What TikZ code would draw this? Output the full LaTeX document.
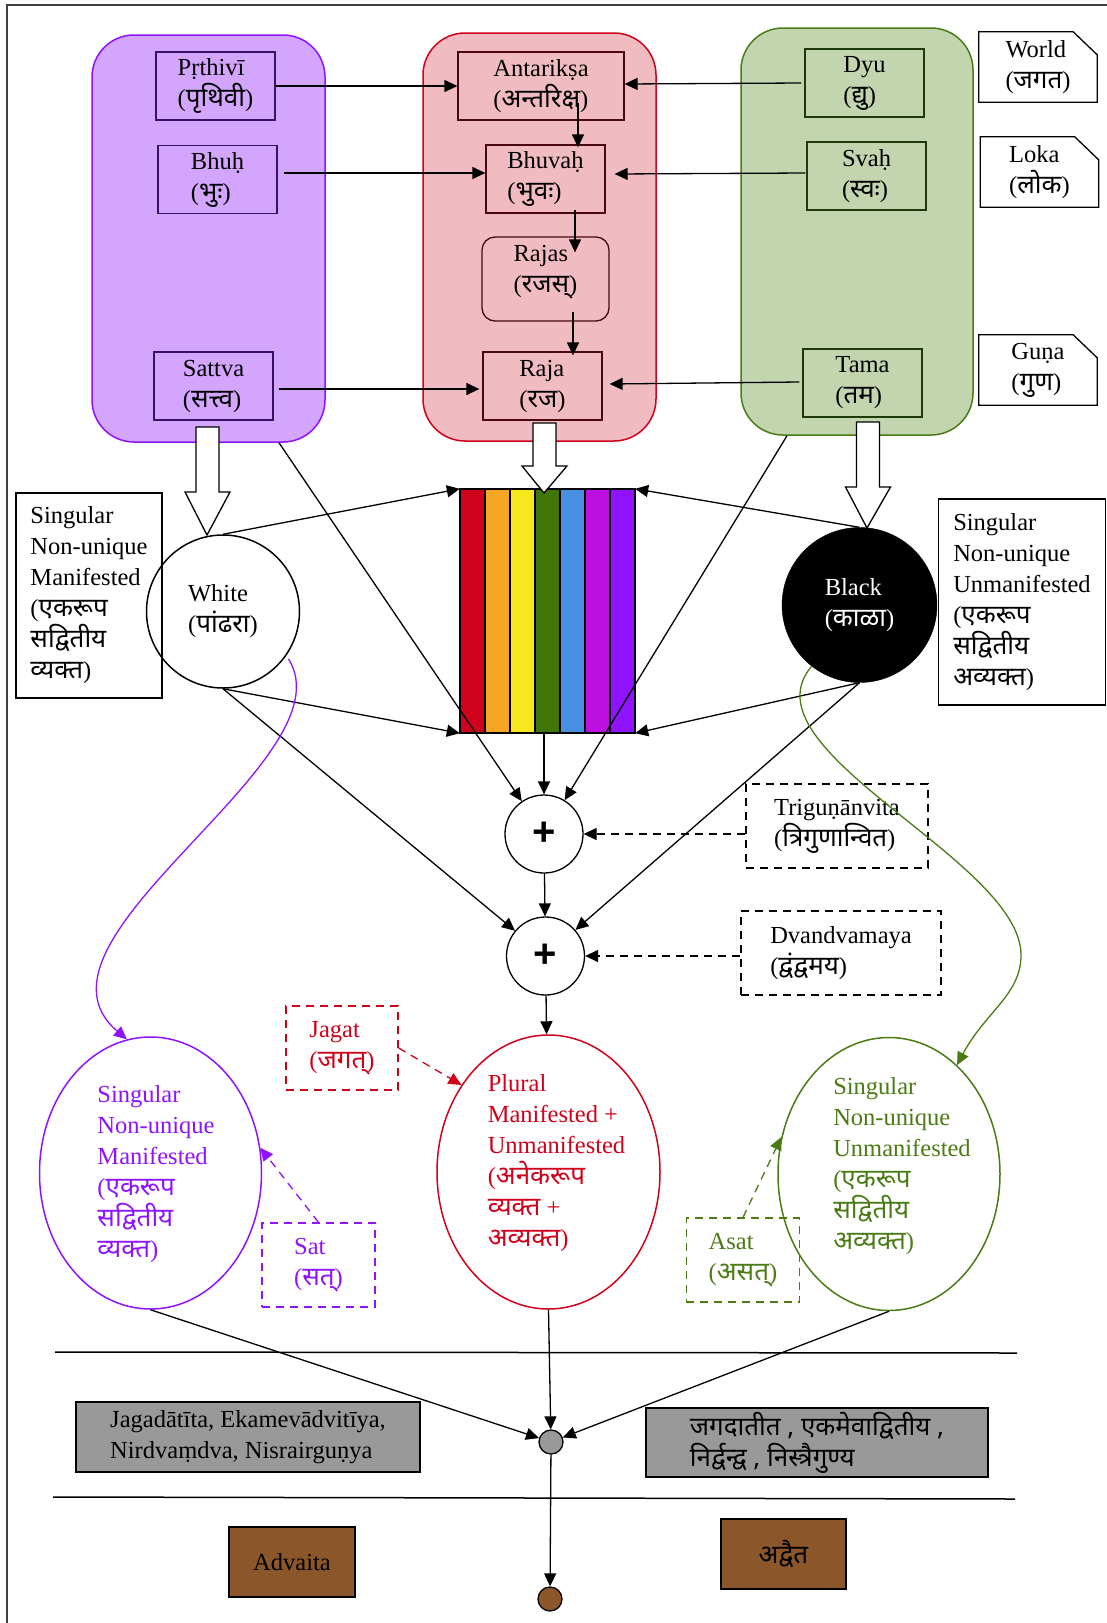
\documentclass[tikz,border=0pt]{standalone}
\usepackage{fontspec}
\setmainfont{Liberation Serif}
\newfontfamily\devfont[Script=Devanagari,Scale=1.06]{Noto Sans}
\newfontfamily\plusfont{Liberation Sans}
\usetikzlibrary{arrows.meta,calc,shapes.geometric}
\newcommand{\dvn}[1]{{\devfont #1}}
% hollow block arrow: top point, tip point, head length
\newcommand{\hollowarrow}[3]{%
  \draw[line width=1.3pt, fill=white] let \p1=(#1), \p2=(#2) in
    (\x1-11.5pt,\y1) -- (\x1-11.5pt,\y2+#3pt) -- (\x1-22.5pt,\y2+#3pt) -- (\x2,\y2)
    -- (\x1+22.5pt,\y2+#3pt) -- (\x1+11.5pt,\y2+#3pt) -- (\x1+11.5pt,\y1) -- cycle;}
% outline of a note card with a cut corner
\newcommand{\cardoutline}[1]{%
  \draw[line width=1.3pt] (#1.north west) -- ($(#1.north east)+(-24,0)$)
    -- ($(#1.north east)+(0,23)$) -- (#1.south east) -- (#1.south west) -- cycle;}

\definecolor{pplFill}{HTML}{D4A5FC}
\definecolor{pplLine}{HTML}{9013FE}
\definecolor{pplDark}{HTML}{3B0F66}
\definecolor{redFill}{HTML}{F1BCC1}
\definecolor{redLine}{HTML}{D0021B}
\definecolor{redDark}{HTML}{4A0710}
\definecolor{grnFill}{HTML}{C3D5AE}
\definecolor{grnLine}{HTML}{4B7B15}
\definecolor{grnDark}{HTML}{1F3A07}
\definecolor{rbRed}{HTML}{D0021B}
\definecolor{rbOrange}{HTML}{F5A623}
\definecolor{rbYellow}{HTML}{F8E71C}
\definecolor{rbGreen}{HTML}{417505}
\definecolor{rbBlue}{HTML}{4A90E2}
\definecolor{rbMagenta}{HTML}{BD10E0}
\definecolor{rbViolet}{HTML}{9013FE}
\definecolor{slate}{HTML}{999999}
\definecolor{bark}{HTML}{8B572A}

\begin{document}
\begin{tikzpicture}[x=1pt,y=-1pt,
  every node/.style={font=\fontsize{24.5}{31}\selectfont, align=left, inner sep=0pt},
  container/.style={rectangle, rounded corners=42pt, line width=1.5pt},
  tbox/.style={rectangle, draw, line width=1.3pt, minimum width=119pt, minimum height=68pt},
  card/.style={rectangle, minimum width=118pt, minimum height=70pt},
  arr/.style={line width=1.3pt, -{Triangle[length=13pt,width=12pt]}},
  darr/.style={arr, dash pattern=on 8pt off 6pt},
  dbox/.style={rectangle, draw, line width=1.3pt, dash pattern=on 8pt off 6pt, minimum height=84pt},
  txtbox/.style={rectangle, draw, line width=1.3pt},
  oval/.style={ellipse, draw, line width=1.5pt},
  plusnode/.style={circle, draw, line width=1.3pt, minimum size=78pt, font=\plusfont\bfseries\fontsize{40}{40}\selectfont},
  dot/.style={circle, draw, line width=1.3pt, minimum size=24pt}
]
\useasboundingbox (0,0) rectangle (1107,1623);
\fill[white] (0,0) rectangle (1107,1623);
% outer frame edges
\draw[line width=1.5pt, black!75] (7,1623) -- (7,5) -- (1107,5);

% three columns
\node[container, draw=pplLine, fill=pplFill, minimum width=233pt, minimum height=407pt] (purple) at (208.5,238.5) {};
\node[container, draw=redLine, fill=redFill, minimum width=233pt, minimum height=408pt] (red) at (539.5,237) {};
\node[container, draw=grnLine, fill=grnFill, minimum width=232pt, minimum height=407pt] (green) at (857,231.5) {};

\node[tbox, draw=pplDark] (prthivi) at (215.5,86) {Pṛthivī\\(\dvn{पृथिवी})};
\node[tbox, draw=pplDark] (bhuh) at (217.5,179.5) {Bhuḥ\\(\dvn{भुः})};
\node[tbox, draw=pplDark] (sattva) at (213.5,386) {Sattva\\(\dvn{सत्त्व})};
\node[tbox, draw=redDark, minimum width=166pt] (antariksa) at (541,86) {Antarikṣa\\(\dvn{अन्तरिक्ष})};
\node[tbox, draw=redDark] (bhuvah) at (545.5,179) {Bhuvaḥ\\(\dvn{भुवः})};
\node[tbox, draw=redDark, rounded corners=13pt, minimum width=127pt, minimum height=84pt] (rajas) at (545.5,279) {};
\node (rajastext) at (545.5,272) {Rajas\\(\dvn{रजस्})};
\node[tbox, draw=redDark] (raja) at (542.5,386) {Raja\\(\dvn{रज})};
\node[tbox, draw=grnDark] (dyu) at (864.5,83) {Dyu\\(\dvn{द्यु})};
\node[tbox, draw=grnDark] (svah) at (866.5,176) {Svaḥ\\(\dvn{स्वः})};
\node[tbox, draw=grnDark] (tama) at (862.5,383) {Tama\\(\dvn{तम})};

% note cards
\node[card] (world) at (1038,67) {World\\(\dvn{जगत})};
\node[card] (loka) at (1039.5,172) {Loka\\(\dvn{लोक})};
\node[card] (guna) at (1038,370) {Guṇa\\(\dvn{गुण})};
\cardoutline{world}
\cardoutline{loka}
\cardoutline{guna}

% links inside the top row
\draw[arr] (prthivi.east) -- (antariksa.west);
\draw[arr] ($(bhuh.east)+(6,-6.5)$) -- ($(bhuvah.west)+(0,-6)$);
\draw[arr] ($(sattva.east)+(5,3)$) -- ($(raja.west)+(-3,3)$);
\draw[arr] ($(dyu.west)+(-3,0)$) -- ($(antariksa.east)+(0,-2)$);
\draw[arr] ($(svah.west)+(-1,-3)$) -- ($(bhuvah.east)+(9,-5)$);
\draw[arr] ($(tama.west)+(-3,-1)$) -- ($(raja.east)+(7,-2)$);
\draw[arr] ($(antariksa)+(37,17)$) -- ($(bhuvah.north)+(32.5,3)$);
\draw[arr] ($(bhuvah)+(29.5,31)$) -- ($(rajas.north)+(29.5,16)$);
\draw[arr] ($(rajas)+(27.5,33)$) -- ($(raja.north)+(30.5,4)$);

% spectrum
\foreach \c [count=\i from 0] in {rbRed,rbOrange,rbYellow,rbGreen,rbBlue,rbMagenta,rbViolet}
  \draw[fill=\c, line width=1.3pt] (460+25*\i,489) rectangle ++(25,244);
\node[minimum width=175pt, minimum height=244pt] (rainbow) at (547.5,611) {};

% hollow arrows out of the columns
\hollowarrow{207.5,427}{207,535}{43}
\hollowarrow{544.5,423}{544,493}{27}
\hollowarrow{868,422}{867,528}{41}

% white and black
\node[circle, draw, line width=1.5pt, fill=white, minimum size=153pt] (white) at (223,611.5) {White\\(\dvn{पांढरा})};
\node[circle, draw, fill=black, text=white, minimum size=155pt] (black) at (859.5,605) {Black\\(\dvn{काळा})};

\node[txtbox, minimum width=146pt, minimum height=205pt] (leftnote) at (89,595.5)
  {Singular\\Non-unique\\Manifested\\(\dvn{एकरूप}\\\dvn{सद्वितीय}\\\dvn{व्यक्त})};
\node[txtbox, minimum width=167.5pt, minimum height=206pt] (rightnote) at (1022,602)
  {Singular\\Non-unique\\Unmanifested\\(\dvn{एकरूप}\\\dvn{सद्वितीय}\\\dvn{अव्यक्त})};

% combining nodes
\node[plusnode] (plus1) at (544,834) {+};
\node[plusnode] (plus2) at (545.5,956) {+};
\node[dbox, minimum width=182pt] (trig) at (837,826) {Triguṇānvita\\(\dvn{त्रिगुणान्वित})};
\node[dbox, minimum width=200pt] (dvand) at (841,953) {Dvandvamaya\\(\dvn{द्वंद्वमय})};

\draw[arr] (white.north) -- (rainbow.north west);
\draw[arr] (white.south) -- (rainbow.south west);
\draw[arr] (black.north) -- (rainbow.north east);
\draw[arr] (black.south) -- (rainbow.south east);
\draw[arr] (rainbow.south -| plus1) -- (plus1.north);
\draw[arr] ($(purple.south)+(70.5,0)$) -- (plus1);
\draw[arr] ($(green.south)+(-70,0)$) -- (plus1);
\draw[arr] (white.south) -- (plus2);
\draw[arr] (black.south) -- (plus2);
\draw[arr] (plus1) -- (plus2);
\draw[darr] (trig.west |- plus1) -- (plus1.east);
\draw[darr] (dvand.west |- plus2) -- (plus2.east);

% the three outcomes
\node[oval, draw=pplLine, minimum width=222pt, minimum height=272pt] (sing1) at (150.5,1173) {};
\node[text=pplLine] (sing1text) at (156,1174)
  {Singular\\Non-unique\\Manifested\\(\dvn{एकरूप}\\\dvn{सद्वितीय}\\\dvn{व्यक्त})};
\node[oval, draw=redLine, minimum width=223pt, minimum height=274pt] (plural) at (548.5,1172) {};
\node[text=redLine] (pluraltext) at (556.5,1163)
  {Plural\\Manifested +\\Unmanifested\\(\dvn{अनेकरूप}\\\dvn{व्यक्त} +\\\dvn{अव्यक्त})};
\node[oval, draw=grnLine, minimum width=222pt, minimum height=273pt] (sing2) at (889,1174) {};
\node[text=grnLine] (sing2text) at (902,1166)
  {Singular\\Non-unique\\Unmanifested\\(\dvn{एकरूप}\\\dvn{सद्वितीय}\\\dvn{अव्यक्त})};

\node[dbox, draw=redLine, text=redLine, minimum width=112pt] (jagat) at (342,1048) {Jagat\\(\dvn{जगत्})};
\node[dbox, draw=pplLine, text=pplLine, minimum width=113pt] (sat) at (318.5,1265) {Sat\\(\dvn{सत्})};
\node[dbox, draw=grnLine, text=grnLine, minimum width=113.5pt] (asat) at (743,1260) {Asat\\(\dvn{असत्})};

\draw[arr] (plus2) -- (plural);
\draw[darr, redLine] (jagat.east) -- (plural.135);
\draw[darr, pplLine] (sat.north) -- (sing1.13);
\draw[darr, grnLine] (asat.north) -- (sing2.161);

\draw[arr, pplLine] ($(white.-36)+(3,2)$) .. controls (352,760) and (10,940) .. (sing1.100);
\draw[arr, grnLine] (black.232) .. controls (740,750) and (1021,860) .. (1021,955)
  .. controls (1021,995) and (985,1012) .. (sing2.58);

% lower bands
\draw[line width=1.5pt] (55,1352) -- (1017,1353);
\draw[line width=1.5pt] (53,1497) -- (1015,1499);

\node[txtbox, fill=slate, minimum width=344pt, minimum height=70pt] (grayL) at (248,1437)
  {Jagadātīta, Ekamevādvitīya,\\Nirdvaṃdva, Nisrairguṇya};
\node[txtbox, fill=slate, minimum width=342pt, minimum height=69pt] (grayR) at (817,1442.5)
  {\dvn{जगदातीत , एकमेवाद्वितीय ,}\\\dvn{निर्द्वन्द्व , निस्त्रैगुण्य}};
\node[dot, fill=slate] (gray) at (551,1442) {};
\node[dot, fill=bark] (bdot) at (550,1599) {};

\draw[arr] (sing1.south) -- (gray);
\draw[arr] (plural.south) -- (gray);
\draw[arr] (sing2.south) -- (gray);
\draw[arr] (gray) -- (bdot);

\node[txtbox, fill=bark, minimum width=126pt, minimum height=70pt] (advaita) at (292,1562) {Advaita};
\node[txtbox, fill=bark, minimum width=125pt, minimum height=70pt] (advaitadv) at (783.5,1554) {\dvn{अद्वैत}};
\end{tikzpicture}
\end{document}
